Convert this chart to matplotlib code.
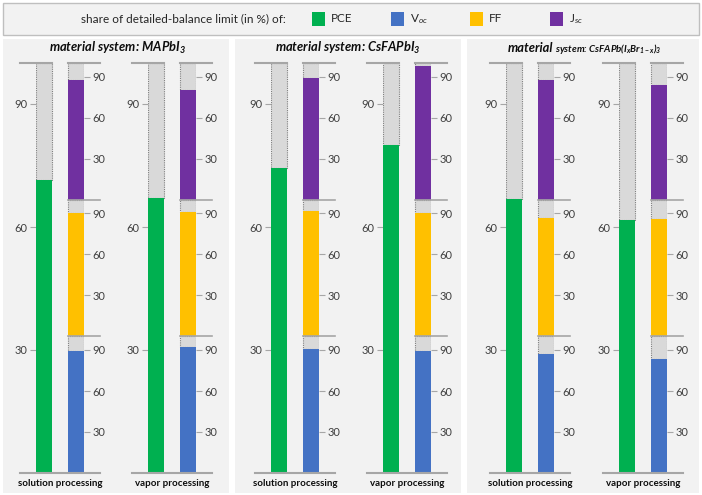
import matplotlib
matplotlib.use("Agg")
import matplotlib.pyplot as plt
from matplotlib.patches import Rectangle

plt.rcParams['font.family'] = ['Lato', 'DejaVu Sans']
plt.rcParams['mathtext.fontset'] = 'custom'
plt.rcParams['mathtext.rm'] = 'Lato'
plt.rcParams['mathtext.it'] = 'Lato:italic'
plt.rcParams['mathtext.bf'] = 'Lato:bold:italic'

# data (share of detailed-balance limit, %)
materials = ["MAPbI$_\\mathbf{3}$", "CsFAPbI$_\\mathbf{3}$", "CsFAPb(I$_\\mathbf{x}$Br$_\\mathbf{1-x}$)$_\\mathbf{3}$"]
processes = ["solution processing", "vapor processing"]
pce = [71.5, 67.1, 74.3, 80.0, 66.8, 61.6]
voc = [89.0, 92.0, 90.5, 89.5, 87.0, 83.7]
ff = [90.5, 91.2, 92.0, 90.5, 86.6, 85.9]
jsc = [87.4, 80.5, 89.0, 98.0, 87.8, 84.2]

legend_names = ["PCE", "V$_{oc}$", "FF", "J$_{sc}$"]
colors = ["#00B050", "#4472C4", "#FFC000", "#7030A0"]
grey = "#D9D9D9"
linecol = "#A6A6A6"

W, H = 702, 495
fig = plt.figure(figsize=(W / 100, H / 100), dpi=100)
fig.patch.set_facecolor("white")


def fx(x):
    return x / W


def fy(y):
    return 1 - y / H


# legend box
fig.add_artist(Rectangle((fx(3), fy(35)), fx(696), 32 / H, transform=fig.transFigure,
                         facecolor="#F2F2F2", edgecolor="#BFBFBF", lw=1, zorder=0))
fig.text(fx(81), fy(19), "share of detailed-balance limit (in %) of:", fontsize=8.5,
         color="#262626", va="center")
leg_x = [312, 391, 470, 550]
for lx, name, c in zip(leg_x, legend_names, colors):
    fig.add_artist(Rectangle((fx(lx), fy(26)), fx(13), 14 / H, transform=fig.transFigure,
                             facecolor=c, edgecolor="none"))
    fig.text(fx(lx + 19), fy(19), name, fontsize=8.5, color="#262626", va="center")

# panels
panels = [(3, 229), (235, 461), (467, 699)]
for x0, x1 in panels:
    fig.add_artist(Rectangle((fx(x0), fy(493)), fx(x1 - x0), 454 / H, transform=fig.transFigure,
                             facecolor="#F2F2F2", edgecolor="none", zorder=0))

fig.text(fx(117), fy(48), "material system: " + materials[0], fontsize=9.3, fontweight="bold",
         fontstyle="italic", ha="center", va="center", color="#0D0D0D")
fig.text(fx(348), fy(48), "material system: " + materials[1], fontsize=9.3, fontweight="bold",
         fontstyle="italic", ha="center", va="center", color="#0D0D0D")
fig.text(fx(553), fy(48), "material", fontsize=9.3, fontweight="bold",
         fontstyle="italic", ha="right", va="center", color="#0D0D0D")
fig.text(fx(555), fy(49), "system: " + materials[2], fontsize=7, fontweight="bold",
         fontstyle="italic", ha="left", va="center", color="#0D0D0D")

col_left = [36, 148, 271, 383, 506, 619]
top, bottom = 63, 473
for i in range(6):
    left = col_left[i]
    ax = fig.add_axes([fx(left), fy(bottom), fx(48), (bottom - top) / H])
    ax.set_facecolor("none")
    ax.set_xlim(-0.25, 1.25)
    ax.set_ylim(0, 300)
    for s in ax.spines.values():
        s.set_visible(False)
    ax.set_xticks([])

    # PCE column scaled to full height
    ax.bar(0, 300 - pce[i] * 3, bottom=pce[i] * 3, width=0.5, color=grey,
           edgecolor="#7F7F7F", linestyle=(0, (1, 1)), lw=0.8, zorder=2)
    ax.bar(0, pce[i] * 3, width=0.5, color=colors[0], zorder=3)

    # stacked Voc / FF / Jsc, each in its own third
    for k, vals in enumerate([voc, ff, jsc]):
        base = 100 * k
        ax.bar(1, 100 - vals[i], bottom=base + vals[i], width=0.5, color=grey,
               edgecolor="#7F7F7F", linestyle=(0, (1, 1)), lw=0.8, zorder=2)
        ax.bar(1, vals[i], bottom=base, width=0.5, color=colors[k + 1], zorder=3)

    # decoration lines
    ax.plot([-0.75, 0.25], [300, 300], color=linecol, lw=1.5, clip_on=False, zorder=4)
    for yl in [100, 200, 300]:
        ax.plot([0.75, 1.75], [yl, yl], color=linecol, lw=1.2 if yl < 300 else 1.5,
                clip_on=False, zorder=4)
    ax.plot([-0.75, 1.75], [0, 0], color=linecol, lw=1.5, clip_on=False, zorder=4)

    ax.set_yticks([90, 180, 270])
    ax.set_yticklabels(["30", "60", "90"])
    ax.tick_params(axis="y", direction="out", length=4, width=0.8, color=linecol,
                   labelsize=8, labelcolor="#404040", pad=2)

    ax2 = ax.twinx()
    ax2.set_ylim(0, 300)
    for s in ax2.spines.values():
        s.set_visible(False)
    ax2.set_yticks([30, 60, 90, 130, 160, 190, 230, 260, 290])
    ax2.set_yticklabels(["30", "60", "90"] * 3)
    ax2.tick_params(axis="y", direction="out", length=4, width=0.8, color=linecol,
                    labelsize=8, labelcolor="#404040", pad=2)

    fig.text(fx(left + 24), fy(484), processes[i % 2], fontsize=7, fontweight="bold",
             ha="center", va="center", color="#0D0D0D")

fig.savefig("out.png", dpi=100)
